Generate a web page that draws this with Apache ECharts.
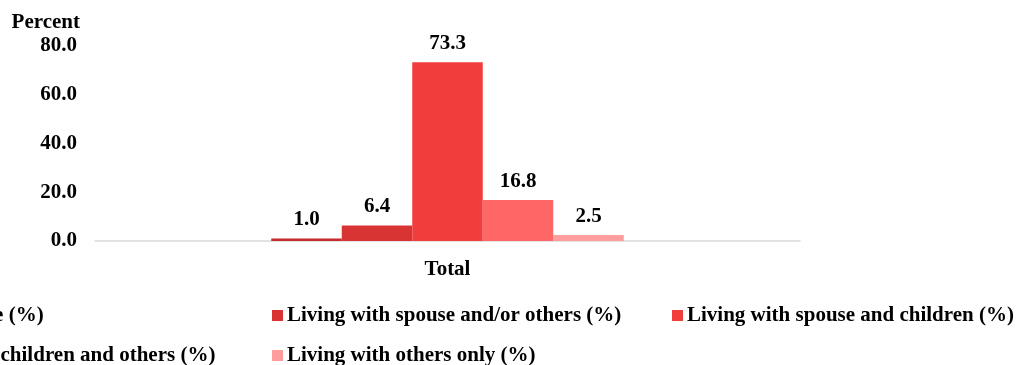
<!DOCTYPE html>
<html><head><meta charset="utf-8">
<script src="https://cdn.jsdelivr.net/npm/echarts@6/dist/echarts.min.js"></script>
<style>html,body{margin:0;padding:0;background:#fff}#c{width:1031px;height:365px}</style>
</head><body><div id="c"></div>
<script>
const categories = ['Total'];
const seriesNames = ['Living alone (%)', 'Living with spouse and/or others (%)', 'Living with spouse and children (%)', 'Living with children and others (%)', 'Living with others only (%)'];
const seriesValues = [[1.0], [6.4], [73.3], [16.8], [2.5]];
const yTicks = [0, 20, 40, 60, 80];
const colors = ['#C42B2B', '#D93434', '#F23D3D', '#FF6666', '#FF9D9D'];
const font = '"Liberation Serif","Times New Roman",serif';
const FS = 21;

const legendPos = [[-128, 300], [267, 300], [667, 300], [-128, 340], [267, 340]];

const chart = echarts.init(document.getElementById('c'), null, {renderer: 'canvas'});
chart.setOption({
  animation: false,
  color: colors,
  textStyle: {fontFamily: font},
  grid: {left: 95, right: 231, top: 46, bottom: 124, containLabel: false},
  legend: seriesNames.map((n, i) => ({
    left: legendPos[i][0], top: legendPos[i][1], itemGap: 0, itemWidth: 11, itemHeight: 11,
    icon: 'rect', itemStyle: {borderWidth: 0},
    textStyle: {fontFamily: font, fontWeight: 'bold', fontSize: FS, color: '#000', padding: [0, 0, 0, -1]},
    data: [n]
  })),
  xAxis: {
    type: 'category', data: categories,
    axisLine: {lineStyle: {color: '#d9d9d9', width: 1.5}},
    axisTick: {show: false},
    axisLabel: {fontFamily: font, fontWeight: 'bold', fontSize: FS, color: '#000', margin: 18}
  },
  yAxis: {
    type: 'value', min: yTicks[0], max: yTicks[yTicks.length - 1], interval: 20,
    name: 'Percent', nameLocation: 'end', nameGap: 13,
    nameTextStyle: {fontFamily: font, fontWeight: 'bold', fontSize: FS, color: '#000', align: 'right', padding: [0, 15, 0, 0]},
    axisLine: {show: false}, axisTick: {show: false}, splitLine: {show: false},
    axisLabel: {fontFamily: font, fontWeight: 'bold', fontSize: FS, color: '#000', margin: 18,
      formatter: v => v.toFixed(1)}
  },
  series: seriesNames.map((n, i) => ({
    name: n, type: 'bar', data: seriesValues[i],
    barGap: '0%', barCategoryGap: '50%',
    label: {show: true, position: 'top', distance: 8, fontFamily: font, fontWeight: 'bold', fontSize: FS, color: '#000',
      formatter: p => p.value.toFixed(1)}
  }))
});
</script></body></html>
